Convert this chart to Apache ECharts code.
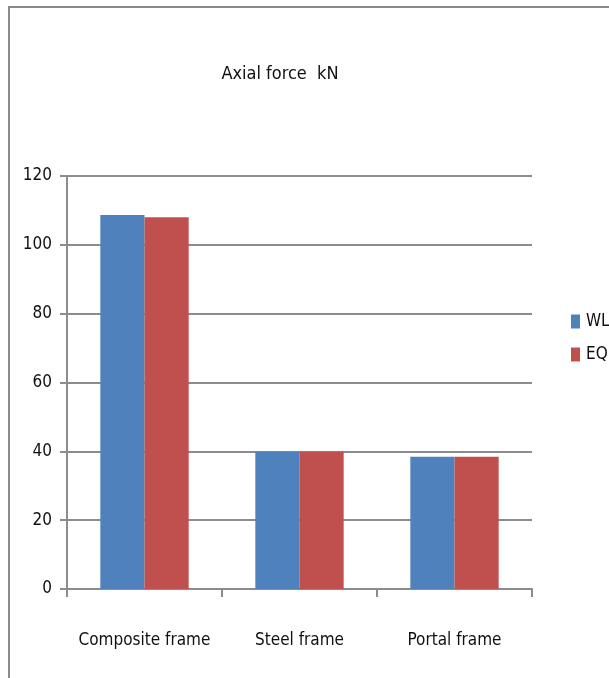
<!DOCTYPE html>
<html>
<head>
<meta charset="utf-8">
<script src="https://cdn.jsdelivr.net/npm/echarts@6/dist/echarts.min.js"></script>
<style>
  html, body { margin: 0; padding: 0; background: #fff; }
  #chart { width: 609px; height: 678px; }
</style>
</head>
<body>
<div id="chart"></div>
<script>
// Axial force per frame type, wind load vs earthquake case
const categories = ['Composite frame', 'Steel frame', 'Portal frame'];
const wlValues = [108.7, 39.9, 38.4];
const eqValues = [108.0, 39.9, 38.4];
const yTicks = [0, 20, 40, 60, 80, 100, 120];

const FONT = '"DejaVu Sans Condensed", "Liberation Sans Narrow", "Open Sans", sans-serif';
const INK = '#101010';
const chart = echarts.init(document.getElementById('chart'));

chart.setOption({
  animation: false,
  title: {
    text: 'Axial force  kN',
    left: 275, top: 60,
    textAlign: 'center',
    textStyle: { fontFamily: FONT, fontSize: 18, fontWeight: 'normal', color: INK }
  },
  graphic: [{
    type: 'rect',
    shape: { x: 9, y: 7, width: 700, height: 700 },
    style: { fill: 'none', stroke: '#8a8a8a', lineWidth: 2 },
    silent: true
  }],
  legend: {
    orient: 'vertical',
    left: 566, top: 308,
    itemWidth: 9, itemHeight: 14,
    itemGap: 16,
    icon: 'rect',
    textStyle: { fontFamily: FONT, fontSize: 17, color: INK, padding: [0, 0, 0, 1] },
    data: ['WL', 'EQ']
  },
  grid: { left: 67, right: 77, top: 176, bottom: 89 },
  xAxis: {
    type: 'category',
    data: categories,
    axisLine: { lineStyle: { color: '#8c8c8c', width: 2 } },
    axisTick: { show: true, length: 8, interval: 0, lineStyle: { color: '#8c8c8c', width: 2 } },
    axisLabel: { interval: 0, margin: 43, fontFamily: FONT, fontSize: 17, color: INK }
  },
  yAxis: {
    type: 'value',
    min: yTicks[0], max: yTicks[yTicks.length - 1], interval: 20,
    axisLine: { show: true, lineStyle: { color: '#8c8c8c', width: 2 } },
    axisTick: { show: true, length: 7, lineStyle: { color: '#8c8c8c', width: 2 } },
    splitLine: { lineStyle: { color: '#8c8c8c', width: 2 } },
    axisLabel: { margin: 15, fontFamily: FONT, fontSize: 17, color: INK }
  },
  series: [
    { name: 'WL', type: 'bar', data: wlValues, barGap: '0%', barCategoryGap: '43%',
      itemStyle: { color: '#4F81BD' } },
    { name: 'EQ', type: 'bar', data: eqValues, barGap: '0%', barCategoryGap: '43%',
      itemStyle: { color: '#C0504D' } }
  ]
});
</script>
</body>
</html>
